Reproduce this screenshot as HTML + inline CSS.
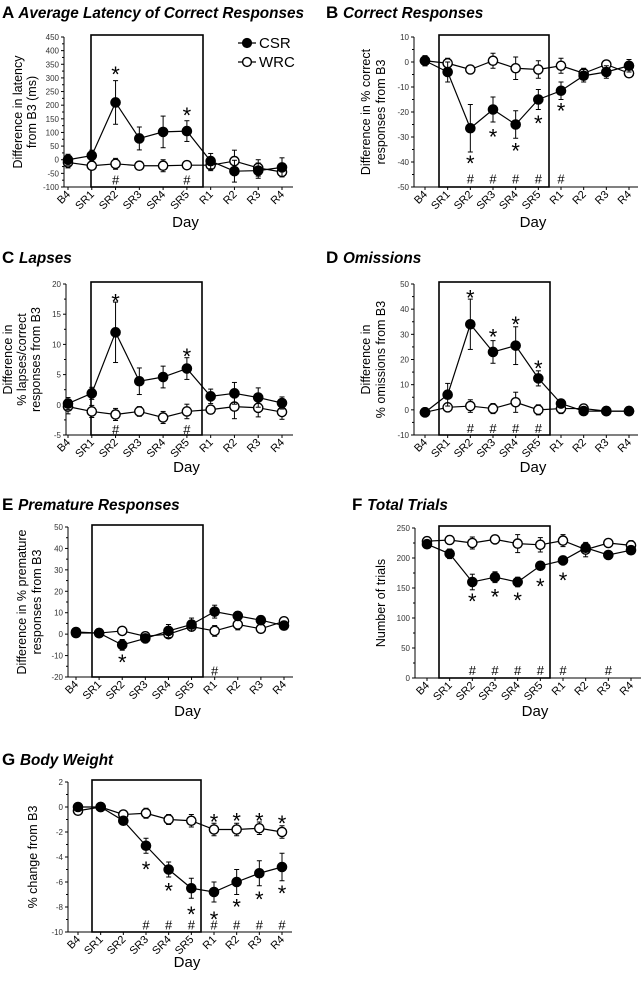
<!DOCTYPE html>
<html><head><meta charset="utf-8"><style>
body{margin:0;background:#fff;width:643px;height:977px;overflow:hidden}
svg{font-family:"Liberation Sans",Arial,sans-serif}
</style></head><body>
<svg id="fig" width="643" height="977" viewBox="0 0 643 977"></svg>
<script>
const days=["B4","SR1","SR2","SR3","SR4","SR5","R1","R2","R3","R4"];
// Panel A
const aCsr=[0,15,210,78,102,105,-5,-42,-40,-28];
const aCsrErr=[20,20,80,42,58,38,28,40,28,35];
const aWrc=[-10,-22,-15,-22,-22,-20,-20,-5,-30,-45];
const aWrcErr=[20,8,20,15,22,10,20,40,30,10];
// Panel B
const bCsr=[0.5,-4,-26.5,-19,-25,-15,-11.5,-5.5,-4,-1.5];
const bCsrErr=[2,4,9.5,5,5.5,4,3.5,2.5,2.5,2.5];
const bWrc=[0.5,-0.5,-3,0.5,-2.5,-3,-1.5,-4.5,-1,-4.5];
const bWrcErr=[2,2,1,3,4.5,3.5,3,2,1,1];
// Panel C
const cCsr=[0.2,1.9,12,3.9,4.6,6,1.4,1.9,1.2,0.3];
const cCsrErr=[1,1,5,2.2,1.8,1.8,1.2,1.8,1.6,1];
const cWrc=[-0.3,-1.1,-1.6,-1.1,-2.1,-1.1,-0.8,-0.3,-0.5,-1.2];
const cWrcErr=[1.2,1,1,0.8,1,1.2,0.6,2,1.5,1.2];
// Panel D
const dCsr=[-1,6,34,23,25.5,12.5,2.5,-0.5,-0.5,-0.5];
const dCsrErr=[0.5,4.5,10,4.5,7.5,3,1,0.5,0.5,0.5];
const dWrc=[-1,1,1.5,0.5,3,0,0.5,0.5,-0.5,-0.5];
const dWrcErr=[0.5,1.5,2.5,2,4,2,2,1,0.5,0.5];
// Panel E
const eCsr=[1,0.5,-5,-2,1.5,4.5,10.5,8.5,6.5,4];
const eCsrErr=[1.5,1.5,2.5,2,3,3,3,2,2,2];
const eWrc=[0.5,0.5,1.5,-1,0,3.5,1.5,4.5,2.5,6];
const eWrcErr=[1,1,1.5,2,1.5,1.5,2.5,2.5,2,1.5];
// Panel F
const fCsr=[223,207,160,168,160,187,196,217,205,213];
const fCsrErr=[5,8,13,9,8,7,7,7,3,5];
const fWrc=[228,230,225,231,224,222,229,214,225,221];
const fWrcErr=[5,7,10,7,15,12,10,12,5,8];
// Panel G
const gCsr=[0,0,-1.1,-3.1,-5,-6.5,-6.8,-6,-5.3,-4.8];
const gCsrErr=[0.2,0.3,0.3,0.6,0.6,0.8,0.8,1,1,1.1];
const gWrc=[-0.3,0,-0.6,-0.5,-1,-1.1,-1.8,-1.8,-1.7,-2];
const gWrcErr=[0.2,0.3,0.3,0.4,0.4,0.5,0.5,0.5,0.5,0.5];

const NS="http://www.w3.org/2000/svg";
const svg=document.getElementById('fig');
function mk(tag,attrs,parent,text){const e=document.createElementNS(NS,tag);for(const k in attrs)e.setAttribute(k,attrs[k]);if(text!==undefined)e.textContent=text;(parent||svg).appendChild(e);return e;}

const panels=[
 {id:'a',letter:'A',title:'Average Latency of Correct Responses',lx:2,ty:18,ax:64,axEnd:293,y0:37,y1:187,min:-100,max:450,step:50,x0:68,x1:282,box:[91,203],csr:aCsr,ce:aCsrErr,wrc:aWrc,we:aWrcErr,
  ylab:["Difference in latency","from B3 (ms)"],ylx:[18,32],day:227,
  stars:[[2,322],[5,172]],hashes:[[2,-72],[5,-72]],legend:true},
 {id:'b',letter:'B',title:'Correct Responses',lx:326,ty:18,ax:414,axEnd:638,y0:37,y1:187,min:-50,max:10,step:10,x0:425,x1:629,box:[439,549],csr:bCsr,ce:bCsrErr,wrc:bWrc,we:bWrcErr,
  ylab:["Difference in % correct","responses from B3"],ylx:[366,381],day:227,
  stars:[[2,-39.5],[3,-29],[4,-34.5],[5,-23.5],[6,-18.5]],hashes:[[2,-46.5],[3,-46.5],[4,-46.5],[5,-46.5],[6,-46.5]]},
 {id:'c',letter:'C',title:'Lapses',lx:2,ty:263,ax:66,axEnd:293,y0:284,y1:435,min:-5,max:20,step:5,x0:68,x1:282,box:[91,202],csr:cCsr,ce:cCsrErr,wrc:cWrc,we:cWrcErr,
  ylab:["Difference in","% lapses/correct","responses  from B3"],ylx:[8,22,36],day:472,
  stars:[[2,17.4],[5,8.4]],hashes:[[2,-4],[5,-4]]},
 {id:'d',letter:'D',title:'Omissions',lx:326,ty:263,ax:414,axEnd:638,y0:284,y1:435,min:-10,max:50,step:10,x0:425,x1:629,box:[439,550],csr:dCsr,ce:dCsrErr,wrc:dWrc,we:dWrcErr,
  ylab:["Difference in","% omissions from B3"],ylx:[366,381],day:472,
  stars:[[2,45.5],[3,30],[4,35],[5,17.5]],hashes:[[2,-7.2],[3,-7.2],[4,-7.2],[5,-7.2]]},
 {id:'e',letter:'E',title:'Premature Responses',lx:2,ty:510,ax:68,axEnd:293,y0:527,y1:677,min:-20,max:50,step:10,x0:76,x1:284,box:[92,203],csr:eCsr,ce:eCsrErr,wrc:eWrc,we:eWrcErr,
  ylab:["Difference in % premature","responses from B3"],ylx:[22,37],day:716,
  stars:[[2,-12]],hashes:[[6,-17]]},
 {id:'f',letter:'F',title:'Total Trials',lx:352,ty:510,ax:415,axEnd:641,y0:528,y1:678,min:0,max:250,step:50,x0:427,x1:631,box:[439,550],csr:fCsr,ce:fCsrErr,wrc:fWrc,we:fWrcErr,
  ylab:["Number of trials"],ylx:[381],day:716,
  stars:[[2,132],[3,139],[4,133],[5,157],[6,167]],hashes:[[2,13],[3,13],[4,13],[5,13],[6,13],[8,13]]},
 {id:'g',letter:'G',title:'Body Weight',lx:2,ty:765,ax:68,axEnd:292,y0:782,y1:932,min:-10,max:2,step:2,x0:78,x1:282,box:[92,201],csr:gCsr,ce:gCsrErr,wrc:gWrc,we:gWrcErr,
  ylab:["% change from B3"],ylx:[33],day:967,
  stars:[[3,-4.8],[4,-6.5],[5,-8.4],[6,-8.8],[7,-7.8],[8,-7.2],[9,-6.7],[6,-1],[7,-0.9],[8,-0.9],[9,-1.1]],hashes:[[3,-9.4],[4,-9.4],[5,-9.4],[6,-9.4],[7,-9.4],[8,-9.4],[9,-9.4]]}
];

panels.forEach(p=>{
 const g=mk('g',{});
 
 
 const ys=v=>p.y1-(v-p.min)/(p.max-p.min)*(p.y1-p.y0);
 const xs=i=>p.x0+i*(p.x1-p.x0)/(days.length-1);
 const t=mk('text',{x:p.lx,y:p.ty,'font-size':17,'font-weight':'bold'},g);
 
 
 mk('tspan',{},t,p.letter+' ');
 mk('tspan',{'font-style':'italic','font-size':15.3},t,p.title);
 const bx=mk('rect',{x:p.box[0],y:p.y0-2,width:p.box[1]-p.box[0],height:p.y1-p.y0+2,fill:'none',stroke:'#000','stroke-width':1.6},g);
 
 
 mk('line',{x1:p.ax,y1:p.y0,x2:p.ax,y2:p.y1,stroke:'#000','stroke-width':1},g);
 mk('line',{x1:p.ax,y1:p.y1,x2:p.axEnd,y2:p.y1,stroke:'#000','stroke-width':1},g);
 for(let v=p.min;v<=p.max+1e-9;v+=p.step){
  const y=ys(v);
  mk('line',{x1:p.ax-3,y1:y,x2:p.ax,y2:y,stroke:'#000'},g);
  if(v+p.step/2<=p.max) mk('line',{x1:p.ax-2,y1:ys(v+p.step/2),x2:p.ax,y2:ys(v+p.step/2),stroke:'#000'},g);
  const tl=mk('text',{x:p.ax-5,y:y+3,'font-size':8,'text-anchor':'end',fill:'#333'},g,String(Math.round(v*10)/10));
  
  
 }
 days.forEach((d,i)=>{
  const x=xs(i);
  mk('line',{x1:x,y1:p.y1,x2:x,y2:p.y1+3,stroke:'#000'},g);
  const tl=mk('text',{x:x+3,y:p.y1+8,'font-size':11,'text-anchor':'end',transform:`rotate(-45 ${x+3} ${p.y1+8})`},g,d);
  
  
 });
 const dl=mk('text',{x:(p.ax+p.axEnd)/2+7,y:p.day,'font-size':15,'text-anchor':'middle'},g,'Day');
 
 
 const cy=(p.y0+p.y1)/2;
 p.ylab.forEach((s,k)=>{
  const yl=mk('text',{x:p.ylx[k],y:cy,'font-size':12.5,'text-anchor':'middle',transform:`rotate(-90 ${p.ylx[k]} ${cy})`,dy:4},g,s);
  
  
 });
 [[p.wrc,p.we,'#fff','wrc'],[p.csr,p.ce,'#000','csr']].forEach(([vals,errs,fill,nm])=>{
  const pts=vals.map((v,i)=>xs(i)+','+ys(v)).join(' ');
  const pl=mk('polyline',{points:pts,fill:'none',stroke:'#000','stroke-width':1.2},g);
  
  
  vals.forEach((v,i)=>{
   const x=xs(i);
   mk('line',{x1:x,y1:ys(v+errs[i]),x2:x,y2:ys(v-errs[i]),stroke:'#000','stroke-width':1},g);
   mk('line',{x1:x-2.5,y1:ys(v+errs[i]),x2:x+2.5,y2:ys(v+errs[i]),stroke:'#000'},g);
   mk('line',{x1:x-2.5,y1:ys(v-errs[i]),x2:x+2.5,y2:ys(v-errs[i]),stroke:'#000'},g);
   const c=mk('circle',{cx:x,cy:ys(v),r:4.6,fill:fill,stroke:'#000','stroke-width':1.4},g);
   
   
  });
 });
 p.stars.forEach(s=>{
  const st=mk('text',{x:xs(s[0]),y:ys(s[1])+10,'font-size':22,'text-anchor':'middle'},g,'*');
  
  
 });
 p.hashes.forEach(s=>{
  const h=mk('text',{x:xs(s[0]),y:ys(s[1])+5,'font-size':13,'text-anchor':'middle'},g,'#');
  
  
 });
 if(p.legend){
  const lg=mk('g',{},g);
  
  
  [['CSR','#000',43],['WRC','#fff',62]].forEach(([n,f,y])=>{
   mk('line',{x1:238,y1:y,x2:256,y2:y,stroke:'#000','stroke-width':1.2},lg);
   mk('circle',{cx:247,cy:y,r:4.4,fill:f,stroke:'#000','stroke-width':1.4},lg);
   const lt=mk('text',{x:259,y:y+5,'font-size':15},lg,n);
   
   
  });
 }
});
</script>
</body></html>
